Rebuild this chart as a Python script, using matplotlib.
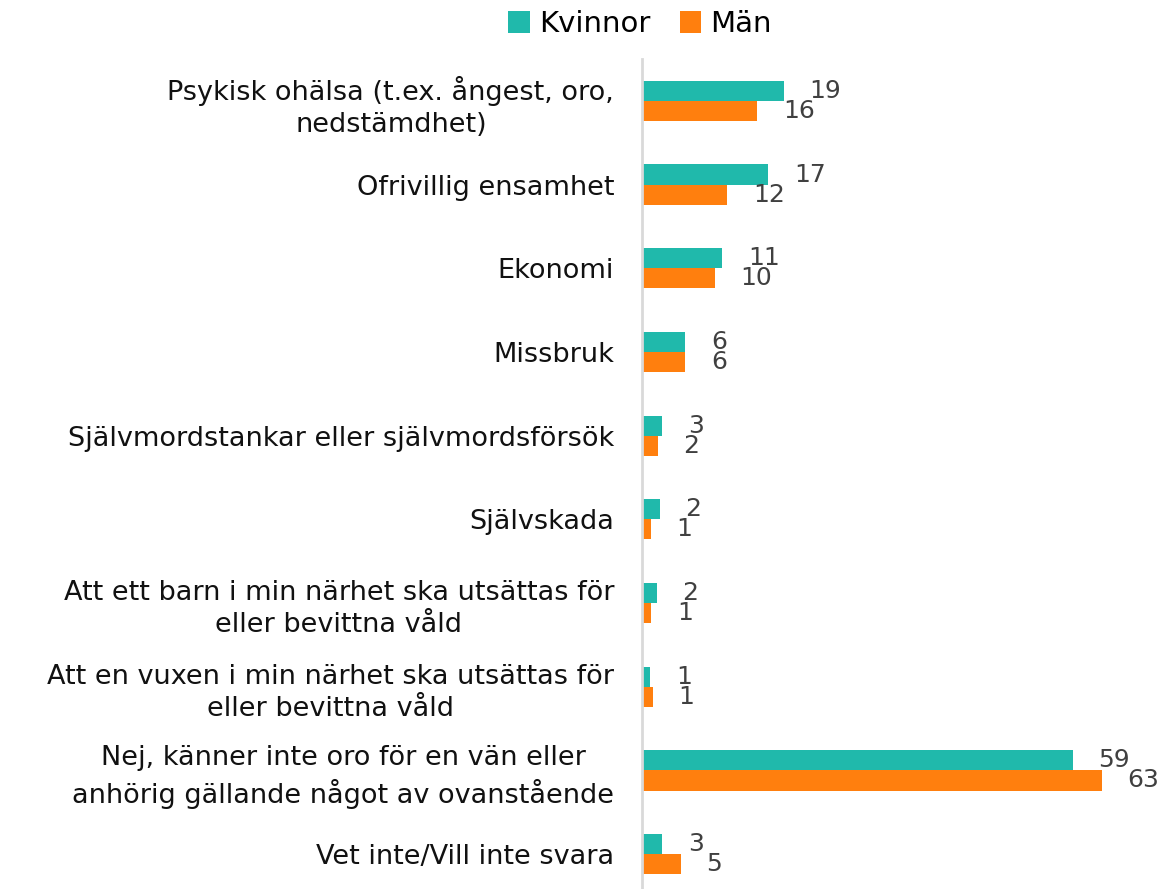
import matplotlib
matplotlib.use("Agg")
import matplotlib.pyplot as plt
import numpy as np

categories = [
    "Psykisk ohälsa (t.ex. ångest, oro,\nnedstämdhet)",
    "Ofrivillig ensamhet",
    "Ekonomi",
    "Missbruk",
    "Självmordstankar eller självmordsförsök",
    "Självskada",
    "Att ett barn i min närhet ska utsättas för\neller bevittna våld",
    "Att en vuxen i min närhet ska utsättas för\neller bevittna våld",
    "Nej, känner inte oro för en vän eller\nanhörig gällande något av ovanstående",
    "Vet inte/Vill inte svara",
]
kvinnor = [19.4, 17.3, 11.0, 5.9, 2.8, 2.4, 2.0, 1.15, 59.0, 2.8]
man = [15.8, 11.7, 10.0, 5.9, 2.15, 1.2, 1.3, 1.45, 63.0, 5.3]
series_names = ["Kvinnor", "Män"]
colors = ["#20B9AB", "#FF7F0E"]

W, H = 1158, 889
fig = plt.figure(figsize=(W / 100, H / 100), dpi=100)
left = 642 / W
ax = fig.add_axes([left, -7 / H, 511 / W, (896 - 59) / H])

y = np.arange(len(categories))
bh = 0.24
b1 = ax.barh(y - bh / 2, kvinnor, height=bh, color=colors[0], label=series_names[0])
b2 = ax.barh(y + bh / 2, man, height=bh, color=colors[1], label=series_names[1])

for bars, vals in ((b1, kvinnor), (b2, man)):
    for rect, v in zip(bars, vals):
        ax.annotate(f"{v:.0f}", xy=(rect.get_width(), rect.get_y() + rect.get_height() / 2),
                    xytext=(18.5, 0), textcoords="offset points",
                    ha="left", va="center", fontsize=18, color="#404040")

ax.set_xlim(0, 70)
ax.set_ylim(len(categories) - 0.5, -0.5)
ax.set_yticks(y)
ax.set_yticklabels(categories, fontsize=19.5, color="#111111", linespacing=1.3)
for lbl in ax.get_yticklabels():
    lbl.set_multialignment("center")
ax.tick_params(axis="y", length=0, pad=20)
ax.set_xticks([])
for s in ["top", "right", "bottom"]:
    ax.spines[s].set_visible(False)
ax.spines["left"].set_color("#d9d9d9")
ax.spines["left"].set_linewidth(2)

fig.legend(handles=[b1, b2], labels=series_names, loc="upper center",
           bbox_to_anchor=(640 / W, 1.018), ncol=2, frameon=False,
           fontsize=21, handlelength=0.75, handleheight=0.75,
           handletextpad=0.3, columnspacing=1.0)

fig.savefig("out.png", dpi=100)
